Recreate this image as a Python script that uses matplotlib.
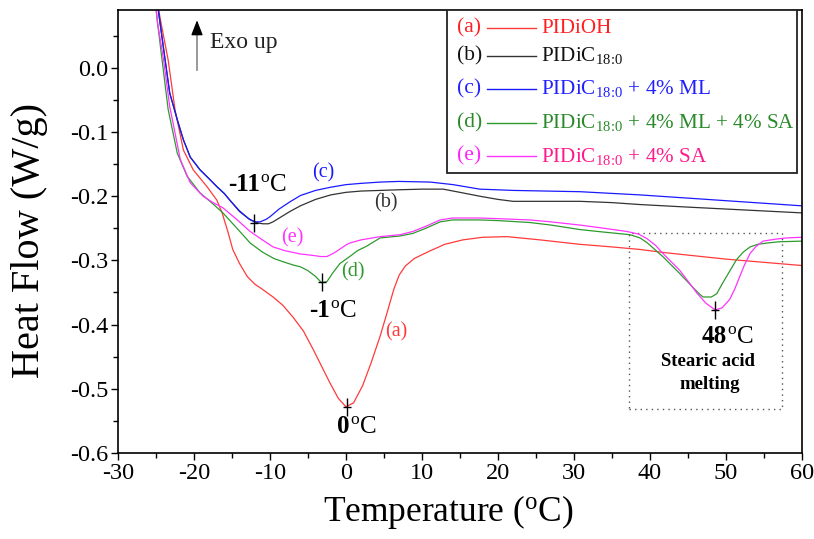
import matplotlib
matplotlib.use("Agg")
import matplotlib.pyplot as plt
from matplotlib.patches import Rectangle
from matplotlib.lines import Line2D
from matplotlib.ticker import MultipleLocator

plt.rcParams['font.family'] = ['Liberation Serif', 'DejaVu Serif']
plt.rcParams['mathtext.fontset'] = 'custom'
plt.rcParams['mathtext.rm'] = 'Liberation Serif'
plt.rcParams['mathtext.it'] = 'Liberation Serif:italic'
plt.rcParams['mathtext.bf'] = 'Liberation Serif:bold'
plt.rcParams['axes.unicode_minus'] = False

# ---------------- data ----------------
a_T = [-25.5, -24.5, -23.4, -22.5, -21.4, -20.1, -18.3, -17.0, -16.3, -15.5, -14.9, -14.0,
       -13.0, -12.0, -11.0, -9.6, -8.3, -7.0, -5.6, -4.3, -3.2, -2.1, -1.0, 0.0, 1.0, 2.2,
       3.3, 4.5, 5.5, 6.3, 7.0, 7.8, 9.0, 11.1, 13.0, 15.4, 18.0, 21.2, 25.5, 30.8, 35.0,
       38.7, 42.0, 46.0, 50.0, 55.0, 60.0]
a_HF = [0.15, 0.08, 0.012, -0.065, -0.128, -0.159, -0.185, -0.206, -0.226, -0.257, -0.283,
        -0.305, -0.325, -0.337, -0.345, -0.357, -0.370, -0.388, -0.410, -0.439, -0.465,
        -0.491, -0.515, -0.528, -0.522, -0.495, -0.460, -0.418, -0.378, -0.345, -0.323,
        -0.309, -0.297, -0.285, -0.275, -0.268, -0.264, -0.263, -0.268, -0.275, -0.279,
        -0.283, -0.288, -0.293, -0.298, -0.303, -0.308]

b_T = [-25.5, -24.7, -23.8, -23.2, -22.2, -21.4, -20.5, -19.2, -18.0, -17.0, -16.0, -15.3,
       -14.0, -12.6, -11.5, -10.9, -10.2, -9.6, -8.5, -7.4, -6.0, -4.0, -2.0, 0.0, 2.0, 4.5,
       7.0, 10.0, 12.8, 15.0, 17.6, 20.0, 22.0, 26.0, 30.8, 35.0, 38.7, 45.0, 50.0, 55.0, 60.0]
b_HF = [0.15, 0.09, 0.012, -0.039, -0.081, -0.112, -0.139, -0.159, -0.173, -0.185, -0.196,
        -0.206, -0.224, -0.237, -0.242, -0.243, -0.243, -0.240, -0.232, -0.224, -0.215,
        -0.205, -0.198, -0.194, -0.192, -0.191, -0.190, -0.189, -0.189, -0.194, -0.200,
        -0.205, -0.208, -0.208, -0.208, -0.210, -0.213, -0.217, -0.220, -0.223, -0.226]

c_T = [-25.5, -24.7, -23.8, -23.2, -22.2, -21.4, -20.5, -19.2, -18.0, -17.0, -16.0, -15.3,
       -14.0, -12.8, -12.0, -11.3, -10.5, -10.0, -8.8, -7.4, -6.0, -4.0, -2.0, 0.0, 2.0, 4.5,
       7.0, 11.1, 14.1, 17.6, 22.0, 30.8, 38.7, 45.0, 50.0, 55.0, 60.0]
c_HF = [0.15, 0.09, 0.012, -0.039, -0.081, -0.112, -0.139, -0.159, -0.173, -0.185, -0.196,
        -0.206, -0.223, -0.235, -0.240, -0.240, -0.236, -0.232, -0.220, -0.209, -0.199,
        -0.191, -0.186, -0.182, -0.180, -0.178, -0.177, -0.178, -0.182, -0.189, -0.191,
        -0.193, -0.198, -0.203, -0.207, -0.211, -0.215]

d_T = [-25.5, -24.8, -24.2, -23.4, -22.2, -20.9, -19.2, -17.5, -16.2, -14.5, -12.6, -11.0,
       -9.5, -8.3, -7.0, -6.0, -5.0, -4.0, -3.2, -2.5, -1.7, -0.8, 0.5, 1.5, 2.7, 4.5, 7.1,
       8.8, 10.5, 12.4, 14.0, 17.6, 20.0, 24.2, 27.0, 30.8, 34.0, 37.4, 38.7, 39.6, 41.7,
       43.9, 45.5, 46.5, 47.0, 48.1, 48.8, 49.6, 50.5, 51.4, 52.3, 53.2, 54.2, 55.4, 57.0, 60.0]
d_HF = [0.15, 0.07, 0.012, -0.065, -0.133, -0.169, -0.195, -0.212, -0.226, -0.248, -0.273,
        -0.287, -0.297, -0.302, -0.307, -0.310, -0.316, -0.325, -0.335, -0.333, -0.319,
        -0.305, -0.294, -0.285, -0.278, -0.265, -0.262, -0.258, -0.250, -0.240, -0.237,
        -0.237, -0.238, -0.241, -0.245, -0.252, -0.256, -0.260, -0.265, -0.272, -0.294,
        -0.320, -0.340, -0.352, -0.357, -0.357, -0.352, -0.335, -0.317, -0.299, -0.287,
        -0.279, -0.275, -0.273, -0.271, -0.270]

e_T = [-25.5, -24.8, -24.0, -23.2, -21.8, -20.5, -18.8, -17.5, -16.2, -14.5, -12.6, -11.0,
       -9.6, -8.0, -6.0, -4.5, -3.3, -2.5, -1.5, 0.0, 0.5, 2.0, 4.5, 7.1, 8.8, 10.5, 12.4,
       14.0, 17.6, 20.0, 24.2, 27.0, 30.8, 34.0, 37.0, 38.5, 39.6, 40.7, 41.7, 42.8, 43.9,
       45.0, 46.2, 47.4, 48.6, 49.5, 50.5, 51.2, 51.8, 52.5, 53.2, 54.0, 54.9, 56.5, 58.0, 60.0]
e_HF = [0.15, 0.07, 0.012, -0.060, -0.143, -0.179, -0.200, -0.210, -0.218, -0.235, -0.255,
        -0.268, -0.279, -0.285, -0.290, -0.292, -0.294, -0.294, -0.288, -0.276, -0.273,
        -0.268, -0.263, -0.260, -0.255, -0.247, -0.237, -0.234, -0.234, -0.235, -0.237,
        -0.240, -0.245, -0.250, -0.255, -0.259, -0.266, -0.276, -0.289, -0.302, -0.315,
        -0.332, -0.351, -0.367, -0.377, -0.374, -0.361, -0.344, -0.326, -0.306, -0.289,
        -0.278, -0.270, -0.267, -0.265, -0.264]

peak_T = [-12.1, -3.2, 0.1, 48.6]
peak_HF = [-0.241, -0.334, -0.528, -0.377]
peak_labels = ['-11', '-1', '0', '48']

series_tags = ['(a)', '(b)', '(c)', '(d)', '(e)']
sub = r'$_{\mathrm{18}\!:\!\mathrm{0}}$'
series_names = ['PIDiOH', 'PIDiC' + sub, 'PIDiC' + sub + ' + 4% ML',
                'PIDiC' + sub + ' + 4% ML + 4% SA', 'PIDiC' + sub + ' + 4% SA']
line_colors = ['#ff3a3a', '#333333', '#1a1aff', '#2e9a2e', '#ff33ff']
tag_colors = ['#ff2020', '#111111', '#2020ff', '#2a8a2a', '#ff22ff']
name_colors = ['#ff2020', '#111111', '#2020ff', '#2a8a2a', '#ff1a8c']

x_ticks = [-30, -20, -10, 0, 10, 20, 30, 40, 50, 60]
y_ticks = [-0.6, -0.5, -0.4, -0.3, -0.2, -0.1, 0.0]

# ---------------- figure ----------------
fig = plt.figure(figsize=(8.14, 5.39), dpi=100)
ax = fig.add_axes([0.145, 0.1596, 0.840, 0.8218])

curves = [(a_T, a_HF), (b_T, b_HF), (c_T, c_HF), (d_T, d_HF), (e_T, e_HF)]
for (t, h), col in zip(curves, line_colors):
    ax.plot(t, h, color=col, lw=0.9)

ax.set_xlim(-30, 60)
ax.set_ylim(-0.6, 0.09)
ax.set_xticks(x_ticks)
ax.set_xticklabels([f"{v:d}" for v in x_ticks])
ax.set_yticks(y_ticks)
ax.set_yticklabels([f"{v:.1f}".replace("-0.0", "0.0") for v in y_ticks])
ax.xaxis.set_minor_locator(MultipleLocator(5))
ax.yaxis.set_minor_locator(MultipleLocator(0.05))
ax.tick_params(which='major', direction='out', length=5, width=1.0, labelsize=17.5, pad=2)
ax.tick_params(which='minor', direction='out', length=3.5, width=1.0)
for s in ax.spines.values():
    s.set_linewidth(1.2)

ax.set_xlabel(r'Temperature ($^{\mathrm{o}}$C)', fontsize=25.5, labelpad=7)
ax.xaxis.label.set_x(0.4825)
ax.set_ylabel('Heat Flow (W/g)', fontsize=29)
ax.yaxis.set_label_coords(-0.102, 0.48)

# peak markers
ax.plot(peak_T, peak_HF, ls='none', marker='|', ms=13, mew=1.0, color='black')
ax.plot(peak_T, peak_HF, ls='none', marker='_', ms=6, mew=1.0, color='black')

# peak temperature labels (bold number + regular degree C)
label_pos = [(-11.3, -0.1916), (-2.1, -0.388), (0.53, -0.5685), (50.1, -0.428)]
for (lx, ly), num in zip(label_pos, peak_labels):
    ax.text(lx, ly, num, fontsize=18, fontweight='bold', ha='right', va='baseline')
    ax.text(lx, ly, r'$^{\mathrm{o}}$C', fontsize=18, ha='left', va='baseline')

# curve tags
tag_pos = [(6.6, -0.411), (5.3, -0.210), (-3.0, -0.164), (0.9, -0.318), (-7.0, -0.265)]
for (tx, ty), tg, col in zip(tag_pos, series_tags, line_colors):
    ax.text(tx, ty, tg, fontsize=14.5, color=col, ha='center', va='center')

# stearic acid melting box
ax.add_patch(Rectangle((37.2, -0.531), 57.4 - 37.2, 0.531 - 0.257, fill=False,
                       ls=(0, (1, 3)), lw=1.0, ec='#555555'))
ax.text(47.6, -0.458, 'Stearic acid', fontsize=13.5, fontweight='bold', ha='center', va='center')
ax.text(47.9, -0.494, 'melting', fontsize=13.5, fontweight='bold', ha='center', va='center')

# Exo up arrow
ax.add_line(Line2D([0.1155, 0.1155], [0.8646, 0.95], transform=ax.transAxes,
                   color='#888888', lw=1.2))
ax.annotate('', xy=(0.1155, 0.977), xycoords='axes fraction',
            xytext=(0.1155, 0.945), textcoords='axes fraction',
            arrowprops=dict(arrowstyle='-|>,head_length=0.9,head_width=0.35',
                            color='black', lw=1.0, shrinkA=0, shrinkB=0))
ax.text(0.1345, 0.926, 'Exo up', transform=ax.transAxes, fontsize=17, ha='left',
        va='center', color='#222222')

# legend box (drawn manually to match the reference layout)
ax.add_patch(Rectangle((0.481, 0.632), 0.993 - 0.481, 1.0 - 0.632, transform=ax.transAxes,
                       fill=True, fc='white', ec='#222222', lw=1.3, zorder=5))
row_y = [0.959, 0.897, 0.822, 0.745, 0.670]
for i, ry in enumerate(row_y):
    ax.text(0.496, ry, series_tags[i], transform=ax.transAxes, fontsize=15.5,
            color=tag_colors[i], ha='left', va='center', zorder=6)
    ax.add_line(Line2D([0.540, 0.611], [ry, ry], transform=ax.transAxes,
                       color=line_colors[i], lw=1.0, zorder=6))
    ax.text(0.619, ry, series_names[i], transform=ax.transAxes, fontsize=15.2,
            color=name_colors[i], ha='left', va='center', zorder=6)

fig.savefig('out.png', dpi=100)
